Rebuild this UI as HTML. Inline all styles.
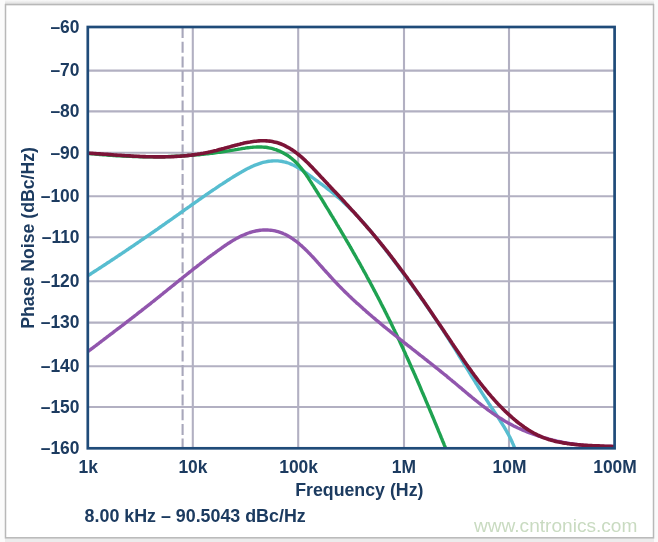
<!DOCTYPE html>
<html><head><meta charset="utf-8"><style>
html,body{margin:0;padding:0;background:#fff;width:658px;height:542px;overflow:hidden}
svg{display:block;filter:blur(0.35px)}
</style></head><body>
<svg width="658" height="542" viewBox="0 0 658 542"><rect width="658" height="542" fill="#fff"/><defs><clipPath id="pc"><rect x="87.8" y="27.0" width="526.8" height="421.3"/></clipPath></defs><linearGradient id="tg" x1="0" y1="0" x2="0" y2="1"><stop offset="0" stop-color="#fafafa"/><stop offset="1" stop-color="#dddddd"/></linearGradient><rect x="5" y="0" width="653" height="4" fill="url(#tg)"/><rect x="0" y="538" width="658" height="4" fill="#ececec"/><rect x="0" y="0" width="5" height="542" fill="#fbfbfb"/><rect x="654" y="0" width="4" height="542" fill="#fafafa"/><rect x="5.5" y="4.6" width="648" height="533.2" fill="none" stroke="#b8b8b8" stroke-width="1.5"/><g stroke="#b2b0c2" stroke-width="2.1"><line x1="87.8" y1="70.6" x2="614.6" y2="70.6"/><line x1="87.8" y1="111.4" x2="614.6" y2="111.4"/><line x1="87.8" y1="152.8" x2="614.6" y2="152.8"/><line x1="87.8" y1="196.3" x2="614.6" y2="196.3"/><line x1="87.8" y1="237.3" x2="614.6" y2="237.3"/><line x1="87.8" y1="281.3" x2="614.6" y2="281.3"/><line x1="87.8" y1="322.6" x2="614.6" y2="322.6"/><line x1="87.8" y1="366.2" x2="614.6" y2="366.2"/><line x1="87.8" y1="407.0" x2="614.6" y2="407.0"/><line x1="192.8" y1="27.0" x2="192.8" y2="448.3"/><line x1="298.2" y1="27.0" x2="298.2" y2="448.3"/><line x1="404.0" y1="27.0" x2="404.0" y2="448.3"/><line x1="509.0" y1="27.0" x2="509.0" y2="448.3"/></g><line x1="182.6" y1="27" x2="182.6" y2="448" stroke="#a8a7bb" stroke-width="2.1" stroke-dasharray="11 3.7"/><g clip-path="url(#pc)" fill="none" stroke-linecap="round" stroke-linejoin="round"><path d="M88.0 275.6 L89.3 274.8 L90.6 274.0 L91.8 273.2 L93.1 272.3 L94.3 271.5 L95.6 270.7 L96.9 269.9 L98.1 269.1 L99.4 268.3 L100.7 267.5 L101.9 266.6 L103.2 265.8 L104.4 265.0 L105.7 264.2 L106.9 263.3 L108.2 262.5 L109.5 261.7 L110.7 260.9 L112.0 260.0 L113.2 259.2 L114.5 258.4 L115.7 257.5 L117.0 256.7 L118.2 255.9 L119.5 255.0 L120.7 254.2 L122.0 253.4 L123.2 252.5 L124.5 251.7 L125.7 250.9 L126.9 250.0 L128.2 249.2 L129.4 248.3 L130.7 247.5 L131.9 246.7 L133.2 245.8 L134.4 245.0 L135.6 244.1 L136.9 243.3 L138.1 242.4 L139.4 241.6 L140.6 240.7 L141.8 239.9 L143.1 239.0 L144.3 238.2 L145.6 237.3 L146.8 236.5 L148.0 235.6 L149.3 234.8 L150.5 233.9 L151.7 233.0 L153.0 232.2 L154.2 231.3 L155.4 230.5 L156.7 229.6 L157.9 228.8 L159.1 227.9 L160.4 227.0 L161.6 226.2 L162.8 225.3 L164.1 224.5 L165.3 223.6 L166.5 222.7 L167.7 221.9 L169.0 221.0 L170.2 220.1 L171.4 219.3 L172.7 218.4 L173.9 217.5 L175.1 216.7 L176.3 215.8 L177.6 214.9 L178.8 214.1 L180.0 213.2 L181.2 212.3 L182.5 211.5 L183.7 210.6 L184.9 209.7 L186.1 208.9 L187.4 208.0 L188.6 207.1 L189.8 206.3 L191.0 205.4 L192.3 204.5 L193.5 203.7 L194.7 202.8 L196.0 201.9 L197.2 201.1 L198.4 200.2 L199.6 199.3 L200.9 198.5 L202.1 197.6 L203.3 196.7 L204.6 195.9 L205.8 195.0 L207.0 194.2 L208.3 193.3 L209.5 192.5 L210.7 191.6 L212.0 190.8 L213.2 189.9 L214.5 189.1 L215.7 188.3 L217.0 187.4 L218.2 186.6 L219.5 185.7 L220.7 184.9 L222.0 184.1 L223.2 183.3 L224.5 182.5 L225.8 181.6 L227.0 180.8 L228.3 180.0 L229.6 179.2 L230.8 178.4 L232.1 177.6 L233.4 176.8 L234.7 176.0 L235.9 175.3 L237.2 174.5 L238.5 173.7 L239.8 172.9 L241.1 172.2 L242.4 171.4 L243.7 170.7 L245.0 170.0 L246.3 169.3 L247.7 168.6 L249.0 167.9 L250.4 167.2 L251.7 166.6 L253.1 166.0 L254.5 165.4 L255.9 164.8 L257.3 164.3 L258.7 163.8 L260.1 163.3 L261.5 162.8 L263.0 162.4 L264.4 162.1 L265.9 161.8 L267.4 161.5 L268.9 161.3 L270.4 161.1 L271.9 161.0 L273.4 160.9 L274.9 160.9 L276.4 160.9 L277.9 160.9 L279.4 161.1 L280.9 161.2 L282.3 161.5 L283.8 161.8 L285.3 162.1 L286.7 162.5 L288.2 163.0 L289.6 163.5 L291.0 164.1 L292.3 164.7 L293.7 165.3 L295.0 166.0 L296.4 166.7 L297.7 167.5 L299.0 168.2 L300.2 169.0 L301.5 169.8 L302.7 170.6 L304.0 171.5 L305.2 172.3 L306.5 173.2 L307.7 174.1 L308.9 175.0 L310.1 175.8 L311.3 176.7 L312.5 177.6 L313.7 178.5 L314.9 179.4 L316.2 180.3 L317.4 181.2 L318.6 182.1 L319.8 183.0 L321.0 183.8 L322.2 184.7 L323.4 185.6 L324.6 186.5 L325.8 187.4 L327.0 188.4 L328.2 189.3 L329.4 190.2 L330.6 191.1 L331.7 192.1 L332.9 193.0 L334.1 193.9 L335.2 194.9 L336.4 195.9 L337.5 196.9 L338.7 197.8 L339.8 198.8 L340.9 199.8 L342.0 200.8 L343.1 201.9 L344.2 202.9 L345.3 203.9 L346.4 204.9 L347.5 206.0 L348.6 207.0 L349.6 208.1 L350.7 209.1 L351.8 210.2 L352.8 211.3 L353.9 212.4 L354.9 213.4 L355.9 214.5 L357.0 215.6 L358.0 216.7 L359.0 217.8 L360.0 218.9 L361.0 220.0 L362.0 221.2 L363.0 222.3 L364.0 223.4 L365.0 224.5 L366.0 225.7 L367.0 226.8 L368.0 227.9 L368.9 229.1 L369.9 230.2 L370.9 231.4 L371.8 232.5 L372.8 233.7 L373.7 234.9 L374.7 236.0 L375.6 237.2 L376.6 238.4 L377.5 239.5 L378.5 240.7 L379.4 241.9 L380.3 243.1 L381.3 244.2 L382.2 245.4 L383.1 246.6 L384.0 247.8 L385.0 249.0 L385.9 250.2 L386.8 251.4 L387.7 252.6 L388.6 253.8 L389.5 254.9 L390.4 256.1 L391.3 257.3 L392.2 258.5 L393.1 259.7 L394.0 260.9 L395.0 262.1 L395.9 263.3 L396.8 264.5 L397.7 265.7 L398.6 267.0 L399.4 268.2 L400.3 269.4 L401.2 270.6 L402.1 271.8 L403.0 273.0 L403.9 274.2 L404.8 275.4 L405.7 276.6 L406.6 277.8 L407.5 279.0 L408.4 280.3 L409.2 281.5 L410.1 282.7 L411.0 283.9 L411.9 285.1 L412.8 286.3 L413.6 287.6 L414.5 288.8 L415.4 290.0 L416.3 291.2 L417.1 292.4 L418.0 293.7 L418.9 294.9 L419.7 296.1 L420.6 297.3 L421.5 298.6 L422.3 299.8 L423.2 301.0 L424.1 302.3 L424.9 303.5 L425.8 304.7 L426.6 306.0 L427.5 307.2 L428.3 308.4 L429.2 309.7 L430.0 310.9 L430.9 312.2 L431.7 313.4 L432.6 314.6 L433.4 315.9 L434.2 317.1 L435.1 318.4 L435.9 319.6 L436.8 320.9 L437.6 322.1 L438.4 323.4 L439.3 324.6 L440.1 325.9 L440.9 327.1 L441.7 328.4 L442.6 329.6 L443.4 330.9 L444.2 332.2 L445.0 333.4 L445.8 334.7 L446.6 335.9 L447.5 337.2 L448.3 338.5 L449.1 339.7 L449.9 341.0 L450.7 342.3 L451.5 343.5 L452.3 344.8 L453.1 346.1 L453.9 347.4 L454.7 348.6 L455.5 349.9 L456.3 351.2 L457.1 352.5 L457.9 353.7 L458.6 355.0 L459.4 356.3 L460.2 357.6 L461.0 358.9 L461.8 360.1 L462.6 361.4 L463.4 362.7 L464.1 364.0 L464.9 365.3 L465.7 366.5 L466.5 367.8 L467.3 369.1 L468.1 370.4 L468.9 371.7 L469.6 372.9 L470.4 374.2 L471.2 375.5 L472.0 376.8 L472.8 378.1 L473.6 379.3 L474.4 380.6 L475.2 381.9 L475.9 383.2 L476.7 384.4 L477.5 385.7 L478.3 387.0 L479.1 388.3 L479.9 389.5 L480.7 390.8 L481.5 392.1 L482.3 393.4 L483.1 394.6 L483.9 395.9 L484.8 397.2 L485.6 398.4 L486.4 399.7 L487.2 400.9 L488.0 402.2 L488.8 403.5 L489.7 404.7 L490.5 406.0 L491.3 407.2 L492.1 408.5 L493.0 409.7 L493.8 411.0 L494.6 412.2 L495.5 413.5 L496.3 414.7 L497.1 416.0 L498.0 417.2 L498.8 418.5 L499.6 419.7 L500.4 421.0 L501.2 422.3 L502.0 423.5 L502.8 424.8 L503.6 426.1 L504.4 427.4 L505.1 428.7 L505.9 430.0 L506.6 431.3 L507.4 432.6 L508.1 433.9 L508.8 435.2 L509.5 436.6 L510.2 437.9 L510.8 439.3 L511.5 440.6 L512.1 442.0 L512.7 443.4 L513.3 444.7 L513.9 446.1 L514.4 447.5 L514.9 448.9" stroke="#57bdd0" stroke-width="3.4"/><path d="M88.0 153.4 L89.5 153.5 L91.0 153.7 L92.5 153.8 L93.9 153.9 L95.4 154.1 L96.9 154.2 L98.4 154.3 L99.9 154.5 L101.4 154.6 L102.9 154.7 L104.4 154.8 L105.9 154.9 L107.4 155.1 L108.9 155.2 L110.4 155.3 L111.9 155.4 L113.4 155.5 L114.9 155.6 L116.4 155.7 L117.9 155.8 L119.4 155.8 L120.9 155.9 L122.4 156.0 L123.9 156.1 L125.4 156.1 L126.9 156.2 L128.4 156.3 L129.9 156.3 L131.4 156.4 L132.9 156.5 L134.4 156.5 L135.9 156.5 L137.4 156.6 L138.9 156.6 L140.4 156.7 L141.9 156.7 L143.4 156.7 L144.9 156.7 L146.4 156.8 L147.9 156.8 L149.4 156.8 L150.9 156.8 L152.4 156.8 L153.9 156.8 L155.4 156.8 L156.9 156.8 L158.4 156.8 L159.9 156.7 L161.4 156.7 L162.9 156.7 L164.4 156.7 L165.9 156.6 L167.4 156.6 L168.9 156.5 L170.4 156.5 L171.9 156.4 L173.4 156.4 L174.9 156.3 L176.4 156.2 L177.9 156.2 L179.4 156.1 L180.9 156.0 L182.4 155.9 L183.9 155.8 L185.4 155.7 L186.9 155.6 L188.4 155.5 L189.9 155.4 L191.4 155.3 L192.9 155.2 L194.4 155.1 L195.9 154.9 L197.4 154.8 L198.9 154.7 L200.3 154.5 L201.8 154.4 L203.3 154.2 L204.8 154.1 L206.3 153.9 L207.8 153.7 L209.3 153.5 L210.8 153.4 L212.3 153.2 L213.8 153.0 L215.3 152.8 L216.7 152.6 L218.2 152.4 L219.7 152.2 L221.2 152.0 L222.7 151.8 L224.2 151.6 L225.7 151.3 L227.1 151.1 L228.6 150.9 L230.1 150.6 L231.6 150.4 L233.1 150.1 L234.5 149.9 L236.0 149.6 L237.5 149.4 L239.0 149.1 L240.5 148.9 L241.9 148.6 L243.4 148.4 L244.9 148.2 L246.4 147.9 L247.9 147.7 L249.4 147.6 L250.9 147.4 L252.4 147.3 L253.9 147.1 L255.4 147.1 L256.9 147.0 L258.4 147.0 L259.9 147.0 L261.4 147.0 L262.9 147.1 L264.3 147.2 L265.8 147.3 L267.3 147.5 L268.8 147.8 L270.3 148.1 L271.7 148.4 L273.2 148.8 L274.6 149.3 L276.0 149.7 L277.5 150.3 L278.8 150.8 L280.2 151.4 L281.6 152.1 L282.9 152.7 L284.2 153.5 L285.5 154.2 L286.8 155.0 L288.1 155.8 L289.3 156.7 L290.5 157.6 L291.7 158.5 L292.8 159.5 L294.0 160.5 L295.1 161.5 L296.1 162.5 L297.2 163.6 L298.2 164.7 L299.2 165.8 L300.2 167.0 L301.1 168.1 L302.1 169.3 L303.0 170.5 L303.9 171.7 L304.8 172.9 L305.6 174.1 L306.5 175.3 L307.3 176.6 L308.2 177.8 L309.0 179.1 L309.8 180.4 L310.6 181.6 L311.4 182.9 L312.2 184.2 L313.0 185.4 L313.8 186.7 L314.6 188.0 L315.4 189.2 L316.2 190.5 L317.0 191.8 L317.8 193.0 L318.6 194.3 L319.4 195.6 L320.2 196.9 L321.0 198.1 L321.8 199.4 L322.6 200.7 L323.4 202.0 L324.2 203.2 L324.9 204.5 L325.7 205.8 L326.5 207.1 L327.3 208.4 L328.1 209.6 L328.9 210.9 L329.6 212.2 L330.4 213.5 L331.2 214.8 L332.0 216.1 L332.8 217.3 L333.5 218.6 L334.3 219.9 L335.1 221.2 L335.9 222.5 L336.6 223.8 L337.4 225.1 L338.2 226.3 L338.9 227.6 L339.7 228.9 L340.5 230.2 L341.2 231.5 L342.0 232.8 L342.8 234.1 L343.5 235.4 L344.3 236.7 L345.1 238.0 L345.8 239.3 L346.6 240.6 L347.3 241.9 L348.1 243.1 L348.8 244.4 L349.6 245.7 L350.3 247.0 L351.1 248.3 L351.8 249.6 L352.6 250.9 L353.3 252.3 L354.1 253.6 L354.8 254.9 L355.6 256.2 L356.3 257.5 L357.0 258.8 L357.8 260.1 L358.5 261.4 L359.2 262.7 L360.0 264.0 L360.7 265.3 L361.4 266.6 L362.2 267.9 L362.9 269.3 L363.6 270.6 L364.3 271.9 L365.1 273.2 L365.8 274.5 L366.5 275.8 L367.2 277.2 L367.9 278.5 L368.7 279.8 L369.4 281.1 L370.1 282.4 L370.8 283.8 L371.5 285.1 L372.2 286.4 L372.9 287.7 L373.6 289.1 L374.3 290.4 L375.0 291.7 L375.7 293.0 L376.4 294.4 L377.1 295.7 L377.8 297.0 L378.5 298.4 L379.2 299.7 L379.9 301.0 L380.6 302.4 L381.2 303.7 L381.9 305.0 L382.6 306.4 L383.3 307.7 L384.0 309.0 L384.6 310.4 L385.3 311.7 L386.0 313.1 L386.7 314.4 L387.3 315.7 L388.0 317.1 L388.7 318.4 L389.3 319.8 L390.0 321.1 L390.7 322.5 L391.3 323.8 L392.0 325.2 L392.6 326.5 L393.3 327.9 L393.9 329.2 L394.6 330.6 L395.2 331.9 L395.9 333.3 L396.5 334.6 L397.2 336.0 L397.8 337.4 L398.4 338.7 L399.1 340.1 L399.7 341.4 L400.3 342.8 L401.0 344.2 L401.6 345.5 L402.2 346.9 L402.9 348.2 L403.5 349.6 L404.1 351.0 L404.8 352.3 L405.4 353.7 L406.0 355.1 L406.6 356.4 L407.2 357.8 L407.9 359.2 L408.5 360.5 L409.1 361.9 L409.7 363.3 L410.3 364.6 L410.9 366.0 L411.5 367.4 L412.1 368.8 L412.7 370.1 L413.4 371.5 L414.0 372.9 L414.6 374.2 L415.2 375.6 L415.8 377.0 L416.4 378.4 L417.0 379.7 L417.6 381.1 L418.2 382.5 L418.8 383.9 L419.4 385.3 L420.0 386.6 L420.5 388.0 L421.1 389.4 L421.7 390.8 L422.3 392.2 L422.9 393.5 L423.5 394.9 L424.1 396.3 L424.7 397.7 L425.3 399.1 L425.8 400.4 L426.4 401.8 L427.0 403.2 L427.6 404.6 L428.2 406.0 L428.8 407.4 L429.3 408.7 L429.9 410.1 L430.5 411.5 L431.1 412.9 L431.7 414.3 L432.2 415.7 L432.8 417.0 L433.4 418.4 L434.0 419.8 L434.5 421.2 L435.1 422.6 L435.7 424.0 L436.3 425.4 L436.8 426.8 L437.4 428.1 L438.0 429.5 L438.5 430.9 L439.1 432.3 L439.7 433.7 L440.3 435.1 L440.8 436.5 L441.4 437.9 L442.0 439.2 L442.5 440.6 L443.1 442.0 L443.7 443.4 L444.2 444.8 L444.8 446.2 L445.4 447.6 L445.9 449.0" stroke="#1fa251" stroke-width="3.4"/><path d="M88.1 351.4 L89.3 350.5 L90.5 349.6 L91.7 348.7 L92.9 347.8 L94.1 346.9 L95.3 346.0 L96.5 345.1 L97.7 344.2 L98.9 343.3 L100.1 342.3 L101.3 341.4 L102.5 340.5 L103.7 339.6 L104.9 338.7 L106.1 337.8 L107.2 336.9 L108.4 336.0 L109.6 335.1 L110.8 334.2 L112.0 333.3 L113.2 332.4 L114.4 331.4 L115.6 330.5 L116.8 329.6 L118.0 328.7 L119.2 327.8 L120.4 326.9 L121.6 326.0 L122.8 325.1 L124.0 324.2 L125.2 323.2 L126.4 322.3 L127.5 321.4 L128.7 320.5 L129.9 319.6 L131.1 318.7 L132.3 317.7 L133.5 316.8 L134.7 315.9 L135.9 315.0 L137.1 314.1 L138.2 313.1 L139.4 312.2 L140.6 311.3 L141.8 310.4 L143.0 309.4 L144.2 308.5 L145.3 307.6 L146.5 306.7 L147.7 305.7 L148.9 304.8 L150.1 303.9 L151.2 302.9 L152.4 302.0 L153.6 301.1 L154.8 300.1 L155.9 299.2 L157.1 298.3 L158.3 297.3 L159.5 296.4 L160.6 295.4 L161.8 294.5 L163.0 293.6 L164.1 292.6 L165.3 291.7 L166.5 290.7 L167.6 289.8 L168.8 288.8 L170.0 287.9 L171.1 287.0 L172.3 286.0 L173.5 285.1 L174.7 284.1 L175.8 283.2 L177.0 282.2 L178.2 281.3 L179.3 280.4 L180.5 279.4 L181.7 278.5 L182.8 277.5 L184.0 276.6 L185.2 275.7 L186.4 274.7 L187.5 273.8 L188.7 272.9 L189.9 271.9 L191.1 271.0 L192.3 270.1 L193.4 269.1 L194.6 268.2 L195.8 267.3 L197.0 266.4 L198.2 265.4 L199.4 264.5 L200.5 263.6 L201.7 262.7 L202.9 261.8 L204.1 260.9 L205.3 259.9 L206.5 259.0 L207.7 258.1 L208.9 257.2 L210.1 256.3 L211.3 255.4 L212.5 254.6 L213.7 253.7 L215.0 252.8 L216.2 251.9 L217.4 251.0 L218.6 250.1 L219.8 249.3 L221.1 248.4 L222.3 247.5 L223.5 246.7 L224.7 245.8 L226.0 245.0 L227.2 244.1 L228.5 243.3 L229.8 242.5 L231.0 241.7 L232.3 240.9 L233.6 240.1 L234.9 239.4 L236.2 238.6 L237.5 237.9 L238.8 237.2 L240.2 236.5 L241.5 235.9 L242.9 235.3 L244.3 234.7 L245.7 234.1 L247.1 233.5 L248.5 233.0 L249.9 232.5 L251.3 232.1 L252.8 231.7 L254.2 231.3 L255.7 231.0 L257.2 230.7 L258.7 230.5 L260.1 230.3 L261.6 230.1 L263.1 230.0 L264.6 230.0 L266.1 230.0 L267.6 230.0 L269.1 230.1 L270.6 230.2 L272.1 230.4 L273.6 230.6 L275.1 230.9 L276.6 231.3 L278.0 231.7 L279.4 232.1 L280.9 232.6 L282.3 233.1 L283.6 233.7 L285.0 234.3 L286.4 235.0 L287.7 235.7 L289.0 236.5 L290.3 237.2 L291.5 238.1 L292.8 238.9 L294.0 239.8 L295.2 240.6 L296.4 241.5 L297.6 242.5 L298.8 243.4 L299.9 244.4 L301.0 245.4 L302.2 246.4 L303.3 247.4 L304.4 248.4 L305.4 249.5 L306.5 250.5 L307.6 251.6 L308.6 252.7 L309.7 253.7 L310.7 254.8 L311.7 255.9 L312.8 257.0 L313.8 258.1 L314.8 259.2 L315.8 260.3 L316.8 261.4 L317.8 262.6 L318.8 263.7 L319.8 264.8 L320.8 265.9 L321.8 267.0 L322.8 268.1 L323.8 269.3 L324.8 270.4 L325.8 271.5 L326.8 272.6 L327.8 273.7 L328.9 274.9 L329.9 276.0 L330.9 277.1 L331.9 278.2 L332.9 279.3 L333.9 280.4 L334.9 281.5 L336.0 282.6 L337.0 283.7 L338.1 284.8 L339.1 285.9 L340.1 286.9 L341.2 288.0 L342.3 289.1 L343.3 290.1 L344.4 291.2 L345.4 292.2 L346.5 293.3 L347.6 294.3 L348.7 295.4 L349.8 296.4 L350.9 297.5 L351.9 298.5 L353.0 299.5 L354.1 300.5 L355.2 301.6 L356.3 302.6 L357.5 303.6 L358.6 304.6 L359.7 305.6 L360.8 306.6 L361.9 307.6 L363.0 308.6 L364.2 309.6 L365.3 310.6 L366.4 311.6 L367.6 312.6 L368.7 313.6 L369.8 314.5 L371.0 315.5 L372.1 316.5 L373.3 317.5 L374.4 318.4 L375.6 319.4 L376.7 320.4 L377.9 321.3 L379.0 322.3 L380.2 323.2 L381.3 324.2 L382.5 325.2 L383.6 326.1 L384.8 327.1 L386.0 328.0 L387.1 329.0 L388.3 329.9 L389.5 330.8 L390.6 331.8 L391.8 332.7 L393.0 333.7 L394.2 334.6 L395.3 335.5 L396.5 336.5 L397.7 337.4 L398.9 338.3 L400.0 339.3 L401.2 340.2 L402.4 341.1 L403.6 342.1 L404.8 343.0 L405.9 343.9 L407.1 344.9 L408.3 345.8 L409.5 346.7 L410.7 347.6 L411.8 348.6 L413.0 349.5 L414.2 350.4 L415.4 351.3 L416.6 352.3 L417.8 353.2 L418.9 354.1 L420.1 355.1 L421.3 356.0 L422.5 356.9 L423.7 357.8 L424.8 358.8 L426.0 359.7 L427.2 360.6 L428.4 361.6 L429.6 362.5 L430.7 363.4 L431.9 364.3 L433.1 365.3 L434.3 366.2 L435.4 367.2 L436.6 368.1 L437.8 369.0 L439.0 370.0 L440.1 370.9 L441.3 371.9 L442.5 372.8 L443.6 373.7 L444.8 374.7 L446.0 375.6 L447.1 376.6 L448.3 377.6 L449.4 378.5 L450.6 379.5 L451.8 380.4 L452.9 381.4 L454.1 382.3 L455.2 383.3 L456.4 384.3 L457.5 385.2 L458.7 386.2 L459.8 387.2 L461.0 388.1 L462.1 389.1 L463.3 390.1 L464.4 391.0 L465.6 392.0 L466.7 393.0 L467.9 393.9 L469.0 394.9 L470.2 395.9 L471.3 396.8 L472.5 397.8 L473.7 398.7 L474.8 399.7 L476.0 400.6 L477.2 401.5 L478.3 402.5 L479.5 403.4 L480.7 404.3 L481.9 405.3 L483.1 406.2 L484.3 407.1 L485.5 408.0 L486.7 408.9 L487.9 409.8 L489.1 410.7 L490.3 411.5 L491.5 412.4 L492.8 413.3 L494.0 414.1 L495.3 415.0 L496.5 415.8 L497.8 416.6 L499.0 417.4 L500.3 418.3 L501.6 419.0 L502.8 419.8 L504.1 420.6 L505.4 421.4 L506.7 422.1 L508.0 422.9 L509.3 423.6 L510.7 424.3 L512.0 425.0 L513.3 425.7 L514.7 426.4 L516.0 427.0 L517.4 427.7 L518.7 428.3 L520.1 428.9 L521.5 429.5 L522.8 430.1 L524.2 430.7 L525.6 431.3 L527.0 431.9 L528.4 432.4 L529.8 433.0 L531.2 433.5 L532.6 434.0 L534.0 434.5 L535.5 435.0 L536.9 435.5 L538.3 436.0 L539.7 436.4 L541.2 436.9 L542.6 437.3 L544.0 437.7 L545.5 438.1 L546.9 438.5 L548.4 438.9 L549.8 439.3 L551.3 439.7 L552.8 440.1 L554.2 440.4 L555.7 440.7 L557.1 441.1 L558.6 441.4 L560.1 441.7 L561.6 442.0 L563.0 442.3 L564.5 442.6 L566.0 442.8 L567.5 443.1 L568.9 443.3 L570.4 443.6 L571.9 443.8 L573.4 444.0 L574.9 444.2 L576.4 444.4 L577.9 444.6 L579.4 444.8 L580.8 445.0 L582.3 445.1 L583.8 445.3 L585.3 445.4 L586.8 445.6 L588.3 445.7 L589.8 445.8 L591.3 445.9 L592.8 446.0 L594.3 446.1 L595.8 446.2 L597.3 446.2 L598.8 446.3 L600.3 446.4 L601.8 446.4 L603.3 446.4 L604.8 446.5 L606.3 446.5 L607.8 446.5 L609.3 446.5 L610.8 446.5 L612.3 446.4 L613.8 446.4" stroke="#9156ad" stroke-width="3.4"/><path d="M87.9 153.2 L89.4 153.3 L90.9 153.3 L92.4 153.4 L93.9 153.5 L95.4 153.6 L96.9 153.7 L98.4 153.8 L99.9 153.9 L101.4 154.0 L102.9 154.1 L104.4 154.2 L105.9 154.3 L107.4 154.4 L108.9 154.5 L110.4 154.6 L111.9 154.7 L113.4 154.9 L114.9 155.0 L116.4 155.1 L117.9 155.2 L119.4 155.3 L120.9 155.4 L122.4 155.5 L123.9 155.6 L125.4 155.7 L126.9 155.7 L128.4 155.8 L129.9 155.9 L131.4 156.0 L132.9 156.1 L134.4 156.2 L135.9 156.3 L137.4 156.3 L138.9 156.4 L140.4 156.5 L141.9 156.5 L143.4 156.6 L144.9 156.6 L146.4 156.7 L147.9 156.7 L149.4 156.8 L150.9 156.8 L152.4 156.8 L153.9 156.9 L155.4 156.9 L156.9 156.9 L158.4 156.9 L159.9 156.9 L161.4 156.9 L162.9 156.9 L164.4 156.9 L165.9 156.8 L167.4 156.8 L168.9 156.8 L170.4 156.7 L171.9 156.6 L173.4 156.6 L174.9 156.5 L176.4 156.4 L177.9 156.3 L179.4 156.2 L180.9 156.1 L182.4 156.0 L183.9 155.9 L185.4 155.7 L186.9 155.6 L188.4 155.4 L189.9 155.2 L191.4 155.1 L192.9 154.9 L194.4 154.7 L195.9 154.5 L197.3 154.3 L198.8 154.0 L200.3 153.8 L201.8 153.5 L203.3 153.3 L204.8 153.0 L206.2 152.7 L207.7 152.4 L209.2 152.1 L210.6 151.8 L212.1 151.4 L213.6 151.1 L215.0 150.7 L216.5 150.4 L217.9 150.0 L219.4 149.6 L220.8 149.2 L222.3 148.8 L223.7 148.5 L225.2 148.1 L226.6 147.7 L228.1 147.3 L229.5 146.9 L231.0 146.5 L232.4 146.1 L233.9 145.7 L235.3 145.3 L236.8 144.9 L238.3 144.5 L239.7 144.2 L241.2 143.8 L242.6 143.5 L244.1 143.1 L245.6 142.8 L247.0 142.5 L248.5 142.2 L250.0 142.0 L251.5 141.7 L253.0 141.5 L254.5 141.3 L256.0 141.2 L257.5 141.0 L259.0 140.9 L260.5 140.8 L262.0 140.8 L263.5 140.8 L265.0 140.8 L266.5 140.9 L268.0 141.0 L269.5 141.1 L270.9 141.3 L272.4 141.6 L273.9 141.9 L275.4 142.2 L276.8 142.6 L278.3 143.0 L279.7 143.5 L281.1 144.0 L282.5 144.6 L283.8 145.2 L285.2 145.9 L286.5 146.6 L287.9 147.3 L289.2 148.0 L290.4 148.8 L291.7 149.6 L293.0 150.5 L294.2 151.3 L295.4 152.2 L296.6 153.1 L297.8 154.0 L299.0 155.0 L300.1 155.9 L301.3 156.9 L302.4 157.9 L303.5 158.9 L304.6 159.9 L305.7 160.9 L306.8 162.0 L307.9 163.0 L308.9 164.1 L310.0 165.2 L311.0 166.2 L312.1 167.3 L313.1 168.4 L314.1 169.5 L315.2 170.6 L316.2 171.7 L317.2 172.8 L318.3 173.9 L319.3 175.0 L320.3 176.1 L321.3 177.2 L322.4 178.3 L323.4 179.4 L324.4 180.5 L325.4 181.6 L326.5 182.7 L327.5 183.8 L328.5 184.9 L329.6 186.0 L330.6 187.1 L331.6 188.2 L332.6 189.3 L333.7 190.4 L334.7 191.4 L335.7 192.5 L336.7 193.6 L337.8 194.7 L338.8 195.8 L339.8 196.9 L340.8 198.0 L341.9 199.1 L342.9 200.2 L343.9 201.3 L344.9 202.4 L346.0 203.6 L347.0 204.7 L348.0 205.8 L349.0 206.9 L350.0 208.0 L351.0 209.1 L352.0 210.2 L353.1 211.3 L354.1 212.4 L355.1 213.5 L356.1 214.7 L357.1 215.8 L358.1 216.9 L359.1 218.0 L360.1 219.1 L361.1 220.3 L362.1 221.4 L363.1 222.5 L364.1 223.6 L365.1 224.8 L366.1 225.9 L367.0 227.0 L368.0 228.2 L369.0 229.3 L370.0 230.4 L371.0 231.6 L371.9 232.7 L372.9 233.9 L373.9 235.0 L374.8 236.2 L375.8 237.3 L376.8 238.5 L377.7 239.6 L378.7 240.8 L379.6 242.0 L380.6 243.1 L381.5 244.3 L382.5 245.5 L383.4 246.6 L384.4 247.8 L385.3 249.0 L386.2 250.2 L387.2 251.3 L388.1 252.5 L389.0 253.7 L389.9 254.9 L390.9 256.1 L391.8 257.3 L392.7 258.5 L393.6 259.7 L394.5 260.9 L395.4 262.1 L396.3 263.3 L397.2 264.4 L398.1 265.7 L399.0 266.9 L399.9 268.1 L400.8 269.3 L401.7 270.5 L402.6 271.7 L403.5 272.9 L404.4 274.1 L405.3 275.3 L406.2 276.5 L407.1 277.7 L407.9 279.0 L408.8 280.2 L409.7 281.4 L410.6 282.6 L411.5 283.8 L412.3 285.1 L413.2 286.3 L414.1 287.5 L414.9 288.7 L415.8 290.0 L416.7 291.2 L417.5 292.4 L418.4 293.7 L419.3 294.9 L420.1 296.1 L421.0 297.4 L421.8 298.6 L422.7 299.8 L423.6 301.1 L424.4 302.3 L425.3 303.5 L426.1 304.8 L427.0 306.0 L427.8 307.2 L428.7 308.5 L429.5 309.7 L430.4 311.0 L431.2 312.2 L432.1 313.5 L432.9 314.7 L433.7 315.9 L434.6 317.2 L435.4 318.4 L436.3 319.7 L437.1 320.9 L438.0 322.2 L438.8 323.4 L439.6 324.7 L440.5 325.9 L441.3 327.1 L442.2 328.4 L443.0 329.6 L443.8 330.9 L444.7 332.1 L445.5 333.4 L446.3 334.6 L447.2 335.9 L448.0 337.1 L448.9 338.4 L449.7 339.6 L450.5 340.9 L451.4 342.1 L452.2 343.4 L453.0 344.6 L453.9 345.9 L454.7 347.1 L455.6 348.4 L456.4 349.6 L457.2 350.8 L458.1 352.1 L458.9 353.3 L459.8 354.6 L460.6 355.8 L461.5 357.1 L462.3 358.3 L463.2 359.5 L464.0 360.8 L464.9 362.0 L465.7 363.2 L466.6 364.5 L467.5 365.7 L468.3 366.9 L469.2 368.2 L470.1 369.4 L471.0 370.6 L471.8 371.8 L472.7 373.0 L473.6 374.2 L474.5 375.5 L475.4 376.7 L476.3 377.9 L477.2 379.1 L478.1 380.3 L479.0 381.4 L479.9 382.6 L480.9 383.8 L481.8 385.0 L482.7 386.2 L483.7 387.4 L484.6 388.5 L485.6 389.7 L486.5 390.9 L487.5 392.0 L488.4 393.2 L489.4 394.3 L490.4 395.4 L491.4 396.6 L492.4 397.7 L493.4 398.8 L494.4 400.0 L495.4 401.1 L496.4 402.2 L497.4 403.3 L498.5 404.4 L499.5 405.4 L500.5 406.5 L501.6 407.6 L502.7 408.7 L503.7 409.7 L504.8 410.8 L505.9 411.8 L507.0 412.9 L508.1 413.9 L509.2 414.9 L510.3 415.9 L511.4 416.9 L512.5 417.9 L513.7 418.9 L514.8 419.9 L516.0 420.8 L517.1 421.8 L518.3 422.7 L519.5 423.6 L520.7 424.5 L521.9 425.4 L523.1 426.3 L524.3 427.2 L525.6 428.0 L526.8 428.9 L528.1 429.7 L529.4 430.5 L530.7 431.3 L531.9 432.0 L533.3 432.8 L534.6 433.5 L535.9 434.2 L537.2 434.9 L538.6 435.5 L540.0 436.1 L541.3 436.7 L542.7 437.3 L544.1 437.9 L545.5 438.4 L547.0 438.9 L548.4 439.4 L549.8 439.8 L551.3 440.2 L552.7 440.6 L554.2 441.0 L555.6 441.4 L557.1 441.7 L558.6 442.0 L560.0 442.3 L561.5 442.6 L563.0 442.9 L564.5 443.1 L566.0 443.3 L567.4 443.6 L568.9 443.8 L570.4 444.0 L571.9 444.1 L573.4 444.3 L574.9 444.5 L576.4 444.6 L577.9 444.8 L579.4 444.9 L580.9 445.0 L582.4 445.1 L583.9 445.2 L585.4 445.3 L586.9 445.4 L588.4 445.5 L589.9 445.6 L591.4 445.6 L592.9 445.7 L594.4 445.8 L595.9 445.8 L597.4 445.9 L598.9 445.9 L600.4 446.0 L601.9 446.1 L603.4 446.1 L604.9 446.2 L606.4 446.2 L607.9 446.3 L609.4 446.4 L610.9 446.4 L612.4 446.5 L613.9 446.6" stroke="#7c1437" stroke-width="3.6"/></g><rect x="87.8" y="27.0" width="526.8" height="421.3" fill="none" stroke="#1f4b79" stroke-width="2.7"/><g font-family="Liberation Sans, sans-serif" font-weight="bold" font-size="18" fill="#1c3b60"><text transform="translate(79.5 32.8) scale(0.968 1)" text-anchor="end">&#8211;60</text><text transform="translate(79.5 76.4) scale(0.968 1)" text-anchor="end">&#8211;70</text><text transform="translate(79.5 117.2) scale(0.968 1)" text-anchor="end">&#8211;80</text><text transform="translate(79.5 158.6) scale(0.968 1)" text-anchor="end">&#8211;90</text><text transform="translate(79.5 202.1) scale(0.968 1)" text-anchor="end">&#8211;100</text><text transform="translate(79.5 243.1) scale(0.968 1)" text-anchor="end">&#8211;110</text><text transform="translate(79.5 287.1) scale(0.968 1)" text-anchor="end">&#8211;120</text><text transform="translate(79.5 328.4) scale(0.968 1)" text-anchor="end">&#8211;130</text><text transform="translate(79.5 372.0) scale(0.968 1)" text-anchor="end">&#8211;140</text><text transform="translate(79.5 412.8) scale(0.968 1)" text-anchor="end">&#8211;150</text><text transform="translate(79.5 454.1) scale(0.968 1)" text-anchor="end">&#8211;160</text><text transform="translate(88.3 472.6) scale(0.968 1)" text-anchor="middle">1k</text><text transform="translate(192.9 472.6) scale(0.968 1)" text-anchor="middle">10k</text><text transform="translate(298.6 472.6) scale(0.968 1)" text-anchor="middle">100k</text><text transform="translate(403.9 472.6) scale(0.968 1)" text-anchor="middle">1M</text><text transform="translate(509.5 472.6) scale(0.968 1)" text-anchor="middle">10M</text><text transform="translate(615.0 472.6) scale(0.968 1)" text-anchor="middle">100M</text></g><g font-family="Liberation Sans, sans-serif" font-weight="bold" fill="#1c3b60"><text transform="translate(359.3 495.9) scale(0.987 1)" text-anchor="middle" font-size="18">Frequency (Hz)</text><text transform="translate(34 237.9) rotate(-90) scale(0.982 1)" text-anchor="middle" font-size="18">Phase Noise (dBc/Hz)</text><text transform="translate(84.6 521.9) scale(0.992 1)" font-size="18">8.00 kHz &#8211; 90.5043 dBc/Hz</text></g><text x="474" y="532.3" font-family="Liberation Sans, sans-serif" font-size="19.1" fill="#c9dbc1">www.cntronics.com</text></svg>
</body></html>
